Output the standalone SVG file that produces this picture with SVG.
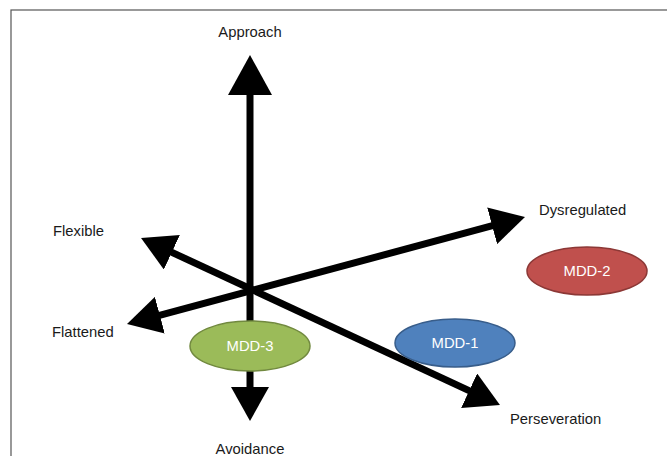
<svg xmlns="http://www.w3.org/2000/svg" width="667" height="456" viewBox="0 0 667 456">
<style>
.lbl{font-family:"Liberation Sans",Arial,sans-serif;font-size:14.8px;fill:#1a1a1a}
.nt{font-family:"Liberation Sans",Arial,sans-serif;font-size:14.8px;fill:#fff;text-anchor:middle}
.ax{stroke:#000;stroke-width:7;fill:none}
</style>
<defs>
<marker id="ah" markerUnits="userSpaceOnUse" markerWidth="34" markerHeight="38" refX="10" refY="19" orient="auto-start-reverse"><path d="M0,0 L34,19 L0,38 z" fill="#000"/></marker>
<marker id="ahBig" markerUnits="userSpaceOnUse" markerWidth="40" markerHeight="44" refX="16" refY="22" orient="auto-start-reverse"><path d="M0,0 L40,22 L0,44 z" fill="#000"/></marker>
</defs>
<rect x="11" y="10" width="700" height="500" fill="#fff" stroke="#555" stroke-width="1.2"/>
<g id="connectors">
<line class="ax" x1="250" y1="79" x2="250" y2="397" marker-start="url(#ahBig)" marker-end="url(#ah)"/>
<line class="ax" x1="150.2" y1="317.8" x2="501.8" y2="223.2" marker-start="url(#ah)" marker-end="url(#ah)"/>
<line class="ax" x1="162.8" y1="248.1" x2="478.2" y2="394.9" marker-start="url(#ah)" marker-end="url(#ah)"/>
</g>
<g id="labels">
<text class="lbl" x="250" y="37" text-anchor="middle">Approach</text>
<text class="lbl" x="539" y="215">Dysregulated</text>
<text class="lbl" x="53" y="236">Flexible</text>
<text class="lbl" x="52" y="337">Flattened</text>
<text class="lbl" x="510" y="424">Perseveration</text>
<text class="lbl" x="250" y="454" text-anchor="middle">Avoidance</text>
</g>
<g id="mdd3"><ellipse cx="250" cy="346" rx="60" ry="25" fill="#9BBB59" stroke="#71893F" stroke-width="1.5"/><text class="nt" x="250" y="351">MDD-3</text></g>
<g id="mdd1"><ellipse cx="455" cy="343" rx="60" ry="24" fill="#4F81BD" stroke="#385D8A" stroke-width="1.5"/><text class="nt" x="455" y="348">MDD-1</text></g>
<g id="mdd2"><ellipse cx="587" cy="271" rx="60" ry="24" fill="#C0504D" stroke="#8C3836" stroke-width="1.5"/><text class="nt" x="587" y="276">MDD-2</text></g>
</svg>
